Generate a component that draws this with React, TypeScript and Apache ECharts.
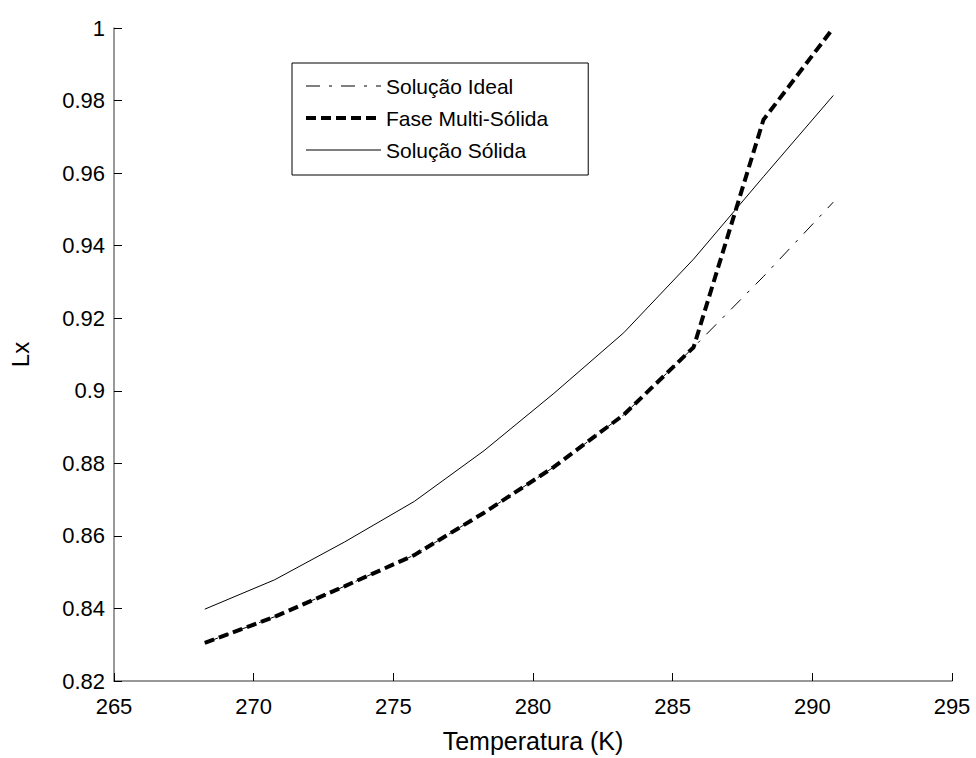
import React, { useEffect, useRef } from "react";
import * as echarts from "echarts";

const temperatures = [268.25, 270.75, 273.25, 275.75, 278.25, 280.75, 283.25, 285.75, 288.25, 290.75];
const solucaoIdeal = [0.8305, 0.8377, 0.8461, 0.8547, 0.8664, 0.879, 0.8934, 0.912, 0.9315, 0.952];
const faseMultiSolida = [0.8305, 0.8377, 0.8461, 0.8547, 0.8664, 0.879, 0.8934, 0.912, 0.9747, 1.0];
const solucaoSolida = [0.8398, 0.8479, 0.8583, 0.8695, 0.8835, 0.8993, 0.916, 0.9363, 0.959, 0.9814];

const seriesNames = ["Solução Ideal", "Fase Multi-Sólida", "Solução Sólida"];
const xTicks = { min: 265, max: 295, interval: 5 };
const yTicks = { min: 0.82, max: 1, interval: 0.02 };

const FONT = "Liberation Sans, Arial, sans-serif";

export default function App() {
  const ref = useRef<HTMLDivElement>(null);
  useEffect(() => {
    if (!ref.current) return;
    const chart = echarts.init(ref.current, undefined, { renderer: "svg" });
    const pair = (ys: number[]) => temperatures.map((t, i) => [t, ys[i]]);
    const idealDash = [14, 9, 3, 9];
    const multiDash = [10, 5];
    chart.setOption({
      animation: false,
      backgroundColor: "#fff",
      textStyle: { fontFamily: FONT },
      grid: { left: 107, top: 28, right: 24, bottom: 65, containLabel: false },
      legend: {
        orient: "vertical",
        left: 292,
        top: 63,
        padding: [12, 40, 14, 12],
        itemGap: 10,
        itemWidth: 75,
        itemHeight: 14,
        borderColor: "#000",
        borderWidth: 1,
        backgroundColor: "#fff",
        itemStyle: { opacity: 0 },
        textStyle: { fontSize: 21, color: "#000", fontFamily: FONT, lineHeight: 22 },
        data: [
          { name: seriesNames[0], lineStyle: { width: 1, type: idealDash, color: "#000" } },
          { name: seriesNames[1], lineStyle: { width: 4, type: multiDash, color: "#000" } },
          { name: seriesNames[2], lineStyle: { width: 1, type: "solid", color: "#000" } },
        ],
      },
      xAxis: {
        type: "value",
        min: xTicks.min,
        max: xTicks.max,
        interval: xTicks.interval,
        name: "Temperatura (K)",
        nameLocation: "middle",
        nameGap: 47,
        nameTextStyle: { fontSize: 25, color: "#000", fontFamily: FONT },
        axisLine: { show: true, lineStyle: { color: "#777", width: 1.5 } },
        axisTick: { show: true, inside: true, length: 8, lineStyle: { color: "#000" } },
        axisLabel: { fontSize: 22, color: "#000", margin: 14, fontFamily: FONT },
        splitLine: { show: false },
      },
      yAxis: {
        type: "value",
        min: yTicks.min,
        max: yTicks.max,
        interval: yTicks.interval,
        name: "Lx",
        nameLocation: "middle",
        nameGap: 82,
        nameRotate: 90,
        nameTextStyle: { fontSize: 24, color: "#000", fontFamily: FONT },
        axisLine: { show: true, lineStyle: { color: "#777", width: 1.5 } },
        axisTick: { show: true, inside: true, length: 8, lineStyle: { color: "#000" } },
        axisLabel: { fontSize: 22, color: "#000", margin: 9, fontFamily: FONT },
        splitLine: { show: false },
      },
      series: [
        {
          name: seriesNames[0],
          type: "line",
          data: pair(solucaoIdeal),
          symbol: "none",
          itemStyle: { color: "#000" },
          lineStyle: { color: "#000", width: 1, type: idealDash },
          z: 2,
        },
        {
          name: seriesNames[1],
          type: "line",
          data: pair(faseMultiSolida),
          symbol: "none",
          itemStyle: { color: "#000" },
          lineStyle: { color: "#000", width: 4, type: multiDash },
          z: 3,
        },
        {
          name: seriesNames[2],
          type: "line",
          data: pair(solucaoSolida),
          symbol: "none",
          itemStyle: { color: "#000" },
          lineStyle: { color: "#000", width: 1, type: "solid" },
          z: 2,
        },
      ],
    });
    return () => chart.dispose();
  }, []);
  return (
    <div
      ref={ref}
      style={{ position: "absolute", left: 0, top: 0, width: 976, height: 758, background: "#fff" }}
    />
  );
}
